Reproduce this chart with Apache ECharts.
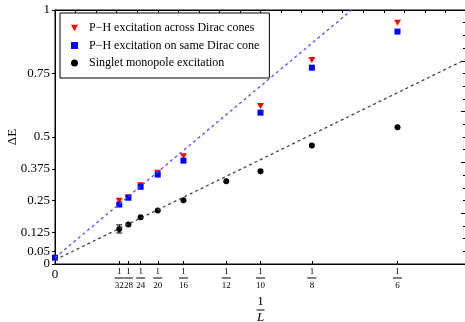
<!DOCTYPE html>
<html>
<head>
<meta charset="utf-8">
<script src="https://cdn.jsdelivr.net/npm/echarts@6/dist/echarts.min.js"></script>
<style>
  html, body { margin: 0; padding: 0; background: #fff; }
  #chart { width: 465px; height: 322px; }
</style>
</head>
<body>
<div id="chart"></div>
<script>
// system sizes L; x value is 1/L
const tickDen = [32, 28, 24, 20, 16, 12, 10, 8, 6];
const yTicks = [0, 0.05, 0.125, 0.25, 0.375, 0.5, 0.75, 1];

const phDen = [32, 28, 24, 20, 16, 10, 8, 6];
const phAcross = [0.249, 0.263, 0.31, 0.359, 0.424, 0.622, 0.803, 0.95];
const phSame = [0.234, 0.261, 0.304, 0.352, 0.407, 0.596, 0.773, 0.915];
const phSameExtrap = [[0, 0.025]];

const monoDen = [32, 28, 24, 20, 16, 12, 10, 8, 6];
const monopole = [0.138, 0.156, 0.184, 0.211, 0.251, 0.326, 0.365, 0.467, 0.538];
// [x, low, high]
const monoErr = [[1 / 32, 0.122, 0.154]];

const fitBlue = [[0, 0.025], [0.1444, 1]];
const fitBlack = [[0, 0.016], [0.2, 0.806]];

const serif = 'Liberation Serif';
const pts = (den, vals) => den.map((d, i) => [1 / d, vals[i]]);
const downTri = 'path://M0,0L10,0L5,9Z';
const names = ['P\u2212H excitation across Dirac cones', 'P\u2212H excitation on same Dirac cone', 'Singlet monopole excitation'];

const chart = echarts.init(document.getElementById('chart'));

const yLabelStyle = { margin: 5, hideOverlap: false, fontFamily: serif, fontSize: 13, color: '#000' };

chart.setOption({
  animation: false,
  textStyle: { fontFamily: serif, color: '#000' },
  grid: {
    left: 55, top: 10, right: -1, bottom: 58, containLabel: false, outerBoundsMode: 'none',
    show: true, borderColor: '#000', borderWidth: 1, backgroundColor: 'transparent'
  },
  legend: {
    data: [
      { name: names[0], icon: downTri },
      { name: names[1], icon: 'rect' },
      { name: names[2], icon: 'circle' }
    ],
    orient: 'vertical',
    left: 60, top: 13,
    padding: [9, 10, 9, 11],
    itemWidth: 7, itemHeight: 7,
    itemGap: 5.5,
    borderColor: '#000', borderWidth: 1,
    backgroundColor: '#fff',
    textStyle: { fontFamily: serif, fontSize: 12, lineHeight: 12, color: '#000', padding: [0, 0, 0, 6] }
  },
  xAxis: [
    {
      type: 'value', min: 0, max: 0.2, position: 'bottom',
      axisLine: { show: true, onZero: false, lineStyle: { color: '#000' } },
      splitLine: { show: false },
      axisTick: { inside: true, length: 3, customValues: tickDen.map(d => 1 / d), lineStyle: { color: '#000' } },
      axisLabel: {
        customValues: [0].concat(tickDen.map(d => 1 / d)),
        margin: 2,
        hideOverlap: false,
        showMinLabel: true,
        formatter: v => v === 0 ? '{z|0}' : '{n|1}\n{bar| }\n{d|' + Math.round(1 / v) + '}',
        rich: {
          z: { fontFamily: serif, fontSize: 13, lineHeight: 15, padding: [3, 0, 0, 0] },
          n: { fontFamily: serif, fontSize: 9, lineHeight: 11 },
          bar: { width: 9, height: 1, fontSize: 1, lineHeight: 2, backgroundColor: '#000' },
          d: { fontFamily: serif, fontSize: 9, lineHeight: 13 }
        }
      },
      name: '{n|1}\n{bar| }\n{l|L}',
      nameLocation: 'middle',
      nameGap: 33,
      nameMoveOverlap: false,
      nameTextStyle: {
        rich: {
          n: { fontFamily: serif, fontSize: 13, lineHeight: 10 },
          bar: { width: 8, height: 1, fontSize: 1, lineHeight: 6, backgroundColor: '#000' },
          l: { fontFamily: serif, fontSize: 13, fontStyle: 'italic', lineHeight: 10 }
        }
      }
    },
    {
      type: 'value', min: 0, max: 0.2, interval: 0.01, position: 'top',
      axisLine: { show: true, onZero: false, lineStyle: { color: '#000' } },
      splitLine: { show: false },
      axisTick: { inside: true, length: 3, lineStyle: { color: '#000' } },
      axisLabel: { show: false }
    }
  ],
  yAxis: [
    {
      type: 'value', min: 0, max: 1, position: 'left',
      axisLine: { show: true, onZero: false, lineStyle: { color: '#000' } },
      splitLine: { show: false },
      axisTick: { show: true, length: 3, customValues: yTicks, lineStyle: { color: '#000' } },
      axisLabel: Object.assign({ customValues: yTicks.slice(1) }, yLabelStyle),
      name: '\u0394E',
      nameLocation: 'middle',
      nameGap: 36,
      nameRotate: 90,
      nameMoveOverlap: false,
      nameTextStyle: { fontFamily: serif, fontSize: 13, color: '#000' }
    },
    {
      type: 'value', min: 0, max: 1, interval: 0.2, position: 'right',
      axisLine: { show: true, onZero: false, lineStyle: { color: '#000' } },
      splitLine: { show: false },
      axisTick: { show: true, inside: true, length: 5, lineStyle: { color: '#000' } },
      minorTick: { show: true, splitNumber: 4, length: 3, lineStyle: { color: '#000' } },
      minorSplitLine: { show: false },
      axisLabel: { show: false }
    },
    {
      // separate axis only for the "0" label, so it is not hidden next to 0.05
      type: 'value', min: 0, max: 1, position: 'left',
      axisLine: { show: false, onZero: false },
      splitLine: { show: false },
      axisTick: { show: false },
      axisLabel: Object.assign({ customValues: yTicks.slice(0, 1), showMinLabel: true }, yLabelStyle)
    }
  ],
  series: [
    {
      name: 'fitBlue', type: 'line', data: fitBlue, symbol: 'none',
      lineStyle: { color: '#5050ff', width: 1.3, type: [3, 3] }, silent: true
    },
    {
      name: 'fitBlack', type: 'line', data: fitBlack, symbol: 'none',
      lineStyle: { color: '#444', width: 1.3, type: [3, 3] }, silent: true
    },
    {
      name: names[0], type: 'scatter',
      data: pts(phDen, phAcross), symbol: downTri, symbolSize: [7, 6],
      itemStyle: { color: '#ff0000', opacity: 1 }
    },
    {
      name: names[1], type: 'scatter',
      data: pts(phDen, phSame).concat(phSameExtrap), symbol: 'rect', symbolSize: 6,
      itemStyle: { color: '#0000ff', opacity: 1 }, clip: false
    },
    {
      name: names[2], type: 'scatter',
      data: pts(monoDen, monopole), symbol: 'circle', symbolSize: 6,
      itemStyle: { color: '#000', opacity: 1 }
    },
    {
      name: 'err', type: 'custom', data: monoErr, silent: true,
      renderItem: (params, api) => {
        const x = api.value(0);
        const lo = api.coord([x, api.value(1)]);
        const hi = api.coord([x, api.value(2)]);
        const st = { stroke: '#000', lineWidth: 1 };
        return {
          type: 'group',
          children: [
            { type: 'line', shape: { x1: lo[0], y1: lo[1], x2: hi[0], y2: hi[1] }, style: st },
            { type: 'line', shape: { x1: lo[0] - 3, y1: lo[1], x2: lo[0] + 3, y2: lo[1] }, style: st },
            { type: 'line', shape: { x1: hi[0] - 3, y1: hi[1], x2: hi[0] + 3, y2: hi[1] }, style: st }
          ]
        };
      }
    }
  ]
});
</script>
</body>
</html>
